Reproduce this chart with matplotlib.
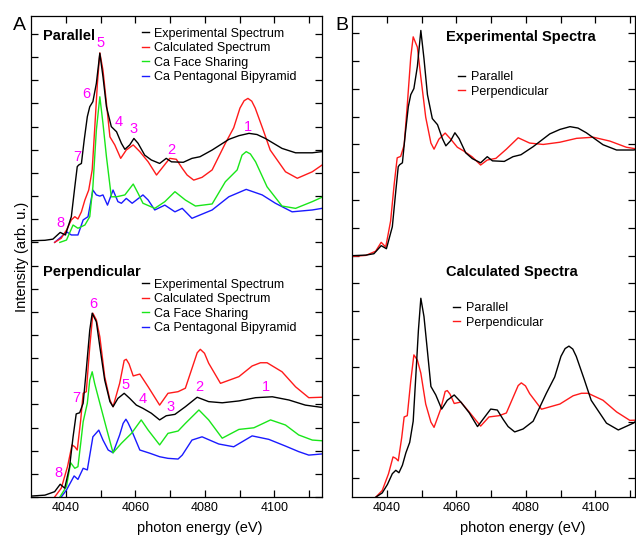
import matplotlib
matplotlib.use("Agg")
import matplotlib.pyplot as plt
from matplotlib.lines import Line2D

plt.rcParams['font.family'] = ['Liberation Sans', 'DejaVu Sans']

# experimental spectra (baseline-subtracted, arb. u.)
e_exp_par = [4030.0, 4034.0, 4036.3, 4038.4, 4039.9, 4041.6, 4042.6, 4043.3, 4043.7, 4044.5, 4045.3, 4046.2,
             4046.9, 4047.8, 4048.8, 4049.8, 4050.7, 4051.7, 4053.1, 4054.6, 4056.0, 4057.0, 4058.4, 4059.6,
             4060.8, 4062.7, 4064.6, 4067.0, 4068.9, 4070.4, 4073.8, 4076.3, 4078.6, 4082.1, 4086.9, 4089.8,
             4092.7, 4095.0, 4097.4, 4102.2, 4106.1, 4110.9, 4113.7]
i_exp_par = [0.07, 0.09, 0.14, 0.43, 0.32, 1.11, 2.40, 3.27, 3.34, 3.41, 4.42, 5.43,
             5.86, 6.08, 6.87, 8.17, 7.16, 5.86, 5.00, 4.78, 4.28, 4.02, 4.21, 4.49,
             4.28, 3.77, 3.56, 3.41, 3.63, 3.48, 3.46, 3.63, 3.70, 3.99, 4.45, 4.61,
             4.71, 4.66, 4.49, 4.06, 3.87, 3.87, 3.92]

e_exp_perp = [4030.0, 4034.0, 4036.8, 4038.4, 4039.7, 4041.1, 4042.1, 4043.0, 4044.0, 4045.0, 4045.9, 4046.9,
              4047.6, 4048.8, 4049.8, 4051.2, 4052.7, 4053.6, 4055.0, 4056.8, 4058.4, 4060.3, 4062.2, 4064.6,
              4067.0, 4068.9, 4071.4, 4074.4, 4077.8, 4081.1, 4085.0, 4089.8, 4094.6, 4099.4, 4104.2, 4108.9,
              4113.7]
i_exp_perp = [0.04, 0.08, 0.23, 0.55, 0.38, 1.31, 2.60, 3.59, 3.64, 4.05, 5.49, 7.21,
              7.94, 7.57, 6.49, 5.05, 4.12, 3.90, 4.26, 4.48, 4.26, 3.97, 3.83, 3.62,
              3.33, 3.51, 3.57, 3.90, 4.31, 4.12, 4.07, 4.15, 4.29, 4.33, 4.19, 3.97,
              3.87]

# calculated spectra
e_calc_par = [4036.8, 4038.7, 4040.2, 4041.6, 4042.6, 4043.5, 4044.5, 4045.5, 4046.6, 4047.6, 4048.3, 4049.1,
              4049.8, 4050.7, 4051.7, 4052.7, 4054.1, 4055.8, 4057.4, 4059.4, 4061.3, 4063.7, 4066.1, 4068.0,
              4069.9, 4071.8, 4073.5, 4074.9, 4076.8, 4079.2, 4082.1, 4085.9, 4088.3, 4090.1, 4091.3, 4092.4,
              4093.5, 4094.5, 4096.8, 4098.8, 4103.2, 4106.6, 4110.9, 4113.7]
i_calc_par = [0.00, 0.18, 0.53, 0.97, 1.11, 1.01, 1.32, 1.83, 2.26, 3.13, 4.85, 6.87,
              8.19, 7.44, 6.01, 4.56, 4.21, 3.63, 3.99, 4.21, 3.92, 3.48, 2.91, 3.27,
              3.63, 3.59, 3.20, 2.91, 2.69, 2.81, 3.13, 4.28, 4.95, 5.80, 6.12, 6.22,
              6.10, 5.80, 4.85, 3.99, 3.05, 2.77, 3.05, 3.34]

e_calc_perp = [4036.8, 4038.7, 4040.5, 4041.8, 4042.6, 4043.3, 4044.3, 4045.0, 4045.9, 4046.9, 4047.8, 4048.8,
               4049.8, 4051.2, 4052.7, 4053.6, 4055.5, 4056.8, 4057.4, 4058.2, 4059.4, 4061.3, 4063.7, 4067.0,
               4069.4, 4072.3, 4074.4, 4076.8, 4077.8, 4078.7, 4079.9, 4081.1, 4084.5, 4089.8, 4093.6, 4096.0,
               4097.9, 4102.2, 4106.1, 4109.9, 4113.7]
i_calc_perp = [0.00, 0.38, 1.31, 2.25, 2.17, 2.03, 3.33, 4.48, 4.55, 6.49, 7.94, 7.65,
               6.92, 5.20, 4.19, 3.90, 4.91, 5.90, 5.95, 5.75, 5.23, 5.31, 4.76, 3.97,
               4.48, 4.55, 4.70, 5.78, 6.23, 6.38, 6.21, 5.78, 4.91, 5.20, 5.66, 5.80,
               5.80, 5.41, 4.76, 4.29, 4.31]

# Ca site contributions
e_fs_par = [4038.3, 4040.2, 4042.1, 4043.5, 4045.5, 4046.9, 4047.8, 4048.8, 4049.8, 4050.7, 4051.7, 4053.1,
            4054.6, 4057.0, 4059.4, 4060.8, 4062.2, 4065.6, 4068.5, 4071.4, 4074.4, 4077.3, 4082.1, 4085.9,
            4089.3, 4090.7, 4091.9, 4093.1, 4094.6, 4097.9, 4102.2, 4106.1, 4110.9, 4113.7]
i_fs_par = [0.00, 0.10, 0.75, 0.61, 0.75, 1.11, 2.40, 4.85, 6.29, 5.14, 3.70, 1.97,
            1.97, 2.05, 2.52, 2.12, 1.69, 1.47, 1.76, 2.19, 1.83, 1.57, 1.66, 2.62,
            3.13, 3.77, 3.92, 3.82, 3.48, 2.40, 1.57, 1.47, 1.76, 1.95]

e_pb_par = [4036.8, 4038.7, 4040.2, 4041.6, 4043.5, 4045.0, 4046.4, 4047.8, 4048.8, 4049.8, 4050.7, 4052.0,
            4053.6, 4055.0, 4056.0, 4057.4, 4059.1, 4062.2, 4063.7, 4065.6, 4068.5, 4071.4, 4073.5, 4076.3,
            4082.1, 4086.9, 4091.9, 4096.5, 4100.3, 4105.1, 4110.9, 4113.7]
i_pb_par = [0.00, 0.24, 0.46, 0.32, 0.32, 0.97, 1.11, 2.26, 2.05, 2.00, 2.05, 1.61,
            2.26, 1.76, 1.69, 1.90, 1.69, 2.05, 1.83, 1.40, 1.61, 1.32, 1.47, 1.04,
            1.40, 1.97, 2.29, 2.05, 1.69, 1.32, 1.40, 1.47]

e_fs_perp = [4038.3, 4040.2, 4041.4, 4042.6, 4043.5, 4044.3, 4045.0, 4046.2, 4046.9, 4047.6, 4048.3, 4049.8,
             4051.7, 4053.6, 4056.0, 4058.9, 4061.7, 4063.7, 4067.0, 4069.4, 4072.3, 4074.4, 4078.3, 4081.1,
             4085.0, 4089.8, 4094.1, 4098.9, 4103.2, 4107.0, 4110.9, 4113.7]
i_fs_perp = [0.00, 0.45, 1.48, 1.24, 1.31, 2.32, 3.25, 4.05, 5.05, 5.41, 4.91, 4.05,
             2.97, 1.91, 2.32, 2.75, 3.33, 2.89, 2.25, 2.75, 2.85, 3.18, 3.76, 3.33,
             2.54, 2.92, 2.99, 3.33, 3.11, 2.68, 2.46, 2.43]

e_pb_perp = [4038.7, 4040.2, 4042.4, 4043.5, 4045.0, 4046.2, 4047.8, 4049.5, 4050.7, 4052.2, 4053.6, 4055.5,
             4056.5, 4057.3, 4057.9, 4058.9, 4061.3, 4064.2, 4067.0, 4069.4, 4072.3, 4073.5, 4076.3, 4079.2,
             4084.0, 4088.3, 4093.6, 4098.4, 4103.2, 4107.0, 4109.9, 4113.7]
i_pb_perp = [0.00, 0.30, 0.91, 0.76, 1.24, 1.17, 2.60, 2.89, 2.46, 2.03, 1.91, 2.68,
             3.18, 3.36, 3.21, 2.89, 2.03, 1.89, 1.74, 1.67, 1.64, 1.81, 2.46, 2.60,
             2.29, 2.17, 2.64, 2.49, 2.20, 1.96, 1.81, 1.86]

# peak numbering (energy, height in panel A units)
peak_ids = ['1', '2', '3', '4', '5', '6', '7', '8']
peaks_par = [(4092.3, 16.0), (4070.5, 15.0), (4059.6, 15.9), (4055.1, 16.2),
             (4049.9, 19.6), (4046.0, 17.4), (4043.3, 14.7), (4038.4, 11.85)]
peaks_perp = [(4097.6, 4.76), (4078.4, 4.76), (4070.0, 3.9), (4062.1, 4.22),
              (4057.3, 4.84), (4047.9, 8.34), (4042.9, 4.29), (4037.9, 1.02)]

series_names = ['Experimental Spectrum', 'Calculated Spectrum', 'Ca Face Sharing', 'Ca Pentagonal Bipyramid']
colors = ['black', '#ff1a1a', '#19e619', '#1a1aff']
magenta = '#ff00ff'

fig = plt.figure(figsize=(6.36, 5.35), dpi=100)
axA = fig.add_axes([31 / 636, 38 / 535, 291 / 636, 481 / 535])
axB = fig.add_axes([352 / 636, 38 / 535, 283 / 636, 481 / 535])


def style_axis(ax, xmax, ylim):
    ax.set_xlim(4030, xmax)
    ax.set_ylim(*ylim)
    ax.set_xticks([4040, 4060, 4080, 4100])
    ax.set_xticks(range(4040, int(xmax) + 1, 10), minor=True)
    ax.set_yticks(range(0, int(ylim[1]) + 1))
    ax.set_yticklabels([])
    ax.tick_params(which='both', direction='in', top=True, right=True, length=5, width=0.9,
                   labelsize=9, pad=3.5)
    for s in ax.spines.values():
        s.set_linewidth(0.9)
    ax.set_xlabel('photon energy (eV)', fontsize=10.5)


lw = 1.0
# panel A, parallel (shifted up)
off_par = 11.0
par_sets = [(e_exp_par, i_exp_par), (e_calc_par, i_calc_par), (e_fs_par, i_fs_par), (e_pb_par, i_pb_par)]
perp_sets = [(e_exp_perp, i_exp_perp), (e_calc_perp, i_calc_perp), (e_fs_perp, i_fs_perp), (e_pb_perp, i_pb_perp)]
for (e, i), c in zip(par_sets[::-1], colors[::-1]):
    axA.plot(e, [v + off_par for v in i], color=c, lw=lw)
for (e, i), c in zip(perp_sets[::-1], colors[::-1]):
    axA.plot(e, i, color=c, lw=lw)

for lab, (x, y) in zip(peak_ids, peaks_par):
    axA.text(x, y, lab, color=magenta, fontsize=10.5, ha='center', va='center')
for lab, (x, y) in zip(peak_ids, peaks_perp):
    axA.text(x, y, lab, color=magenta, fontsize=10.5, ha='center', va='center')

handles = [Line2D([], [], color=c, lw=lw) for c in colors]
leg_kw = dict(loc='upper left', frameon=False, fontsize=9, handlelength=0.55, handletextpad=0.45,
              labelspacing=0.2, borderpad=0, borderaxespad=0)
legA1 = axA.legend(handles, series_names, bbox_to_anchor=(0.381, 0.976), **leg_kw)
axA.add_artist(legA1)
axA.legend(handles, series_names, bbox_to_anchor=(0.381, 0.454), **leg_kw)

axA.text(0.041, 0.958, 'Parallel', transform=axA.transAxes, fontsize=10.5, fontweight='bold', va='center')
axA.text(0.041, 0.468, 'Perpendicular', transform=axA.transAxes, fontsize=10.5, fontweight='bold', va='center')

style_axis(axA, 4113.7, (0, 20.78))
axA.set_ylabel('Intensity (arb. u.)', fontsize=10.5)
axA.yaxis.set_label_coords(-0.008, 0.5)
axA.xaxis.set_label_coords(0.58, -0.05)

# panel B
off_exp = 7.93
off_calc = -0.69
scale_calc_par = 0.874
scale_calc_perp = 0.645
axB.plot(e_exp_perp, [v + off_exp for v in i_exp_perp], color=colors[1], lw=lw)
axB.plot(e_exp_par, [v + off_exp for v in i_exp_par], color='black', lw=lw)
axB.plot(e_calc_perp, [v * scale_calc_perp + off_calc for v in i_calc_perp], color=colors[1], lw=lw)
axB.plot(e_calc_par, [v * scale_calc_par + off_calc for v in i_calc_par], color='black', lw=lw)

hB = [Line2D([], [], color='black', lw=lw), Line2D([], [], color=colors[1], lw=lw)]
legB1 = axB.legend(hB, ['Parallel', 'Perpendicular'], bbox_to_anchor=(0.375, 0.885), **leg_kw)
axB.add_artist(legB1)
axB.legend(hB, ['Parallel', 'Perpendicular'], bbox_to_anchor=(0.357, 0.405), **leg_kw)

axB.text(0.332, 0.957, 'Experimental Spectra', transform=axB.transAxes, fontsize=10.5, fontweight='bold',
         va='center')
axB.text(0.332, 0.468, 'Calculated Spectra', transform=axB.transAxes, fontsize=10.5, fontweight='bold',
         va='center')

style_axis(axB, 4111.4, (-0.68, 16.62))
axB.xaxis.set_label_coords(0.604, -0.05)

fig.text(13 / 636, 1 - 25 / 535, 'A', fontsize=14, va='center', ha='left')
fig.text(335 / 636, 1 - 25 / 535, 'B', fontsize=14, va='center', ha='left')

fig.savefig('out.png', dpi=100)
